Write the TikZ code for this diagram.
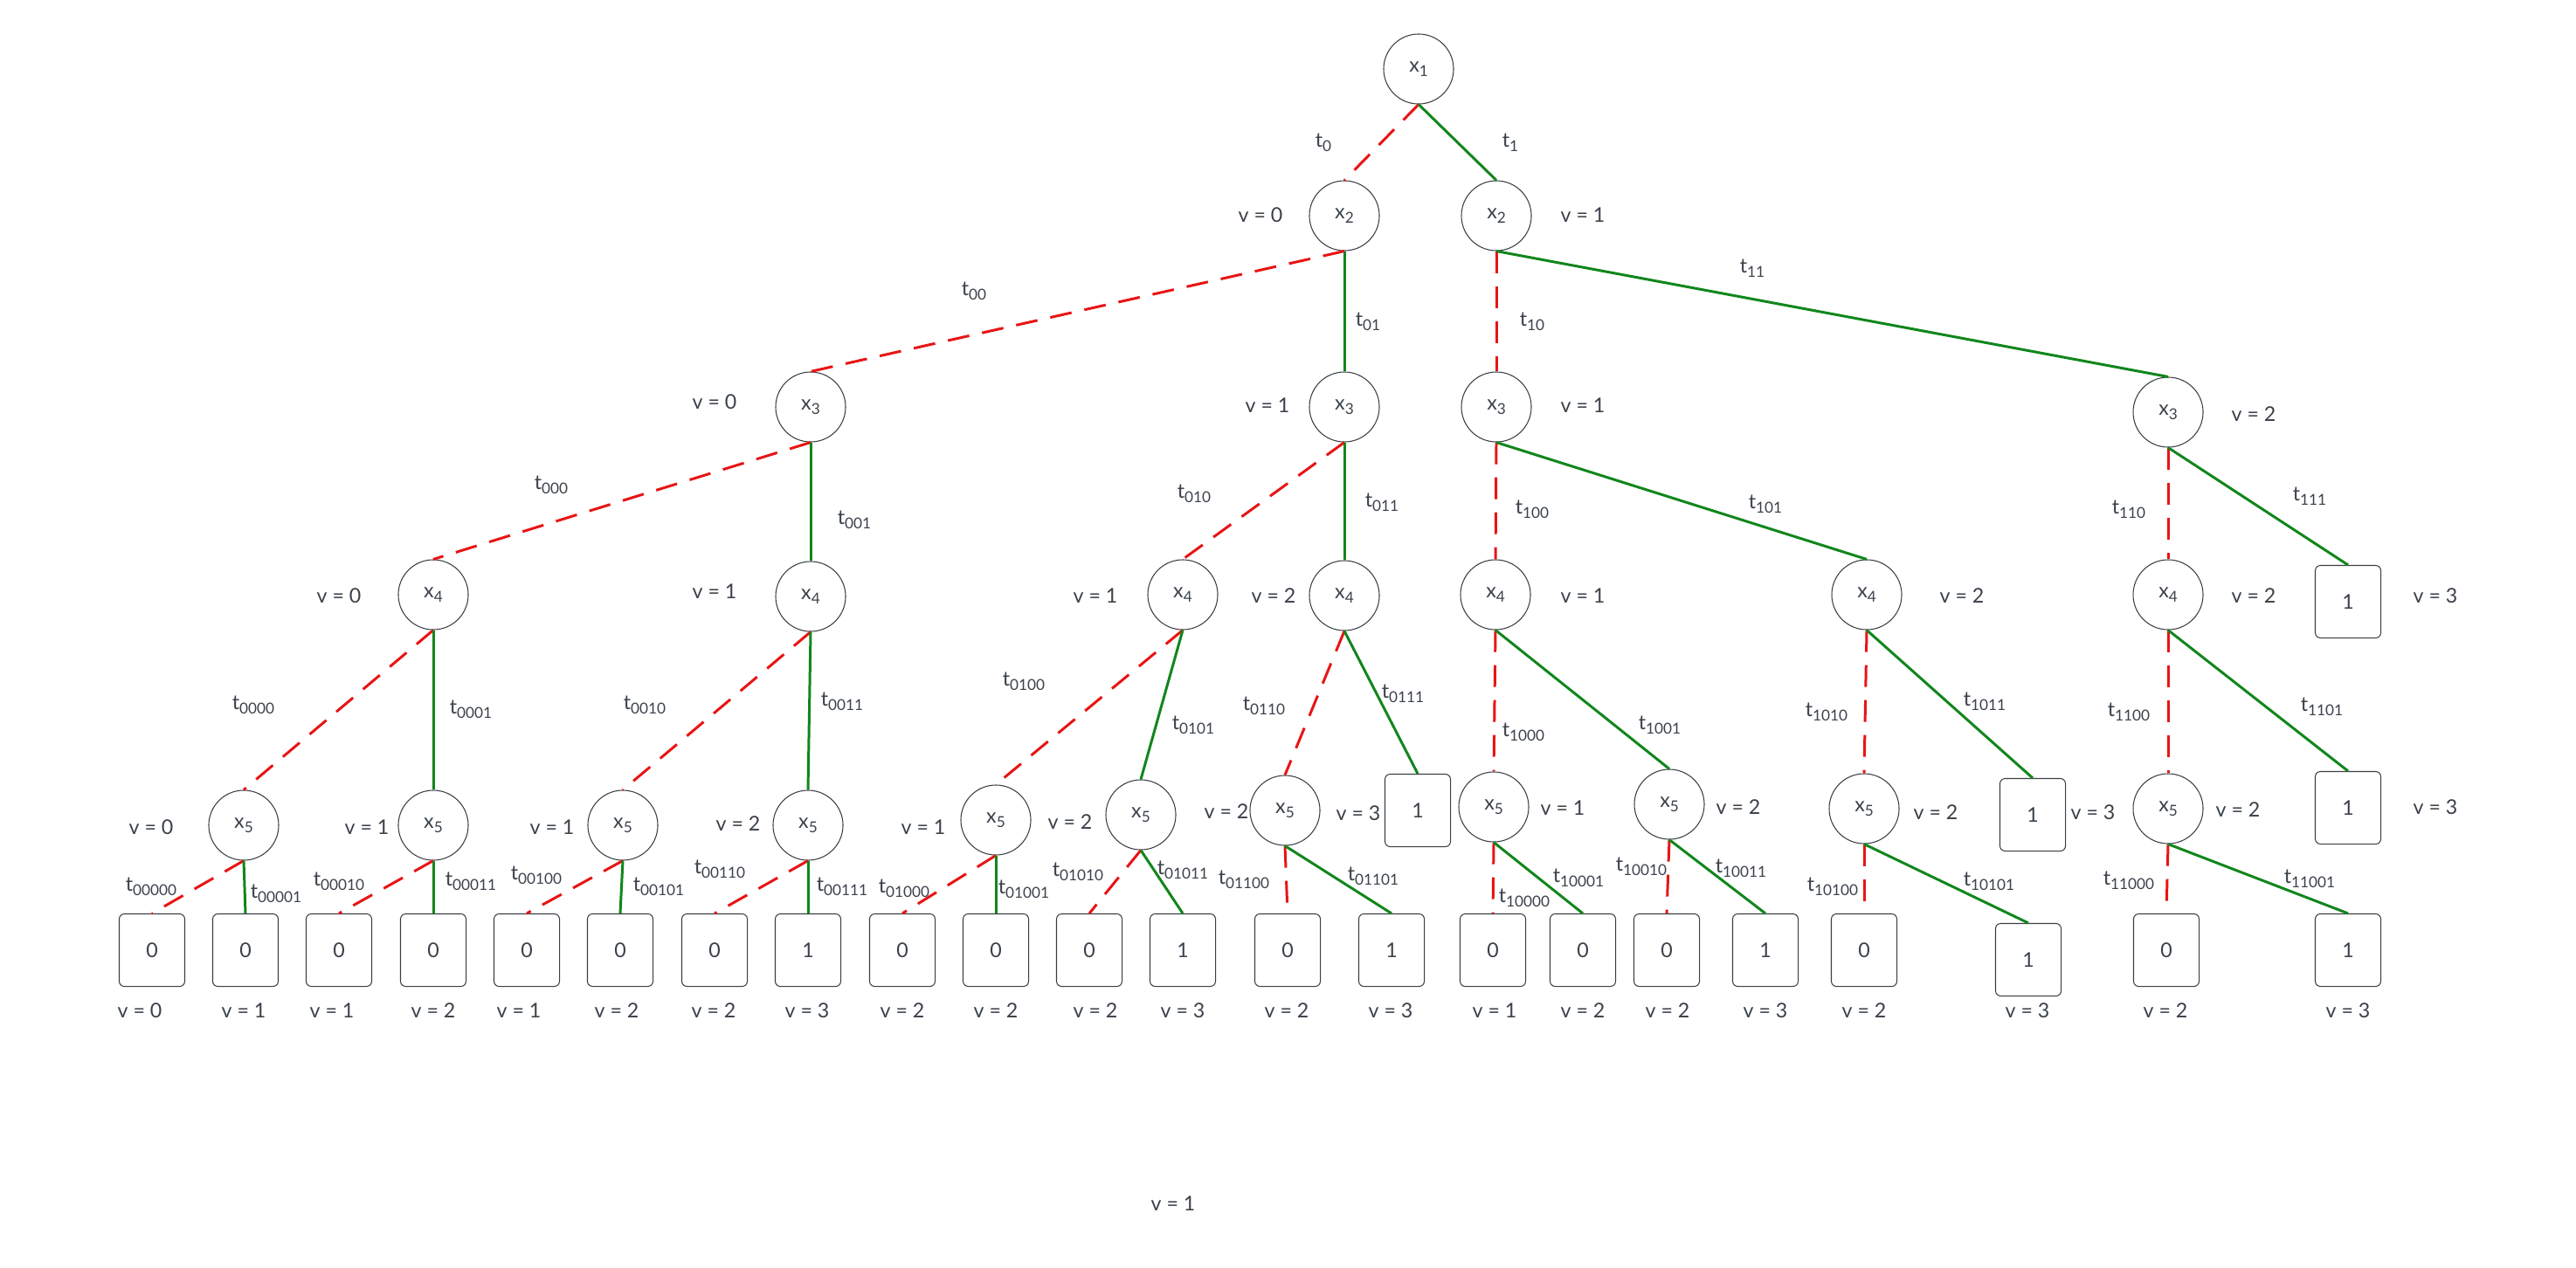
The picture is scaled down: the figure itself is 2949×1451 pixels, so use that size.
\documentclass[tikz,border=0pt]{standalone}
\usepackage{fontspec}
\setmainfont{Lato}
\definecolor{txt}{HTML}{3A414A}
\definecolor{bord}{HTML}{3A3F45}
\definecolor{redc}{HTML}{E81414}
\definecolor{grnc}{HTML}{11861C}
\newcommand\mylbl{\fontsize{6.6pt}{7.5pt}\selectfont}
\newcommand\sbs[1]{\raisebox{-0.4ex}{\fontsize{4.9pt}{5.5pt}\selectfont #1}}
\tikzset{
  vn/.style={circle, draw=bord, line width=0.3pt, minimum size=0.8cm, inner sep=0pt, text=txt, font=\mylbl},
  tn/.style={rectangle, rounded corners=0.06cm, draw=bord, line width=0.3pt, minimum width=0.75cm, minimum height=0.83cm, inner sep=0pt, text=txt, font=\mylbl},
  zero/.style={draw=redc, line width=0.85pt, dash pattern=on 0.25cm off 0.15cm},
  one/.style={draw=grnc, line width=0.85pt},
  lb/.style={text=txt, font=\mylbl, inner sep=0pt}
}
\begin{document}
\begin{tikzpicture}[x=0.01cm, y=-0.01cm]
\useasboundingbox (0,0) rectangle (2949,1451);
% ---------- decision nodes ----------
\node[vn] (n) at (1624,79) {x\sbs{1}};
\node[vn] (n0) at (1539,247) {x\sbs{2}};
\node[vn] (n1) at (1713,247) {x\sbs{2}};
\node[vn] (n00) at (928,466) {x\sbs{3}};
\node[vn] (n01) at (1539,466) {x\sbs{3}};
\node[vn] (n10) at (1713,466) {x\sbs{3}};
\node[vn] (n11) at (2482,472) {x\sbs{3}};
\node[vn] (n000) at (496,681) {x\sbs{4}};
\node[vn] (n001) at (928,683) {x\sbs{4}};
\node[vn] (n010) at (1354,681) {x\sbs{4}};
\node[vn] (n011) at (1539,682) {x\sbs{4}};
\node[vn] (n100) at (1712,681) {x\sbs{4}};
\node[vn] (n101) at (2137,681) {x\sbs{4}};
\node[vn] (n110) at (2482,681) {x\sbs{4}};
\node[tn] (n111) at (2688,689) {1};
\node[vn] (n0000) at (279,945) {x\sbs{5}};
\node[vn] (n0001) at (496,945) {x\sbs{5}};
\node[vn] (n0010) at (713,945) {x\sbs{5}};
\node[vn] (n0011) at (925,945) {x\sbs{5}};
\node[vn] (n0100) at (1140,939) {x\sbs{5}};
\node[vn] (n0101) at (1306,933) {x\sbs{5}};
\node[vn] (n0110) at (1471,928) {x\sbs{5}};
\node[tn] (n0111) at (1623,928) {1};
\node[vn] (n1000) at (1710,924) {x\sbs{5}};
\node[vn] (n1001) at (1911,921) {x\sbs{5}};
\node[vn] (n1010) at (2134,926) {x\sbs{5}};
\node[tn] (n1011) at (2327,933) {1};
\node[vn] (n1100) at (2482,926) {x\sbs{5}};
\node[tn] (n1101) at (2688,925) {1};
% ---------- leaves ----------
\node[tn] (n00000) at (174,1088) {0};
\node[tn] (n00001) at (281,1088) {0};
\node[tn] (n00010) at (388,1088) {0};
\node[tn] (n00011) at (496,1088) {0};
\node[tn] (n00100) at (603,1088) {0};
\node[tn] (n00101) at (710,1088) {0};
\node[tn] (n00110) at (818,1088) {0};
\node[tn] (n00111) at (925,1088) {1};
\node[tn] (n01000) at (1033,1088) {0};
\node[tn] (n01001) at (1140,1088) {0};
\node[tn] (n01010) at (1247,1088) {0};
\node[tn] (n01011) at (1354,1088) {1};
\node[tn] (n01100) at (1474,1088) {0};
\node[tn] (n01101) at (1593,1088) {1};
\node[tn] (n10000) at (1709,1088) {0};
\node[tn] (n10001) at (1812,1088) {0};
\node[tn] (n10010) at (1908,1088) {0};
\node[tn] (n10011) at (2021,1088) {1};
\node[tn] (n10100) at (2134,1088) {0};
\node[tn] (n10101) at (2322,1099) {1};
\node[tn] (n11000) at (2480,1088) {0};
\node[tn] (n11001) at (2688,1088) {1};
% ---------- edges ----------
\draw[zero] (n.south) -- (n0.north);
\draw[one] (n.south) -- (n1.north);
\draw[zero] (n0.south) -- (n00.north);
\draw[one] (n0.south) -- (n01.north);
\draw[zero] (n1.south) -- (n10.north);
\draw[one] (n1.south) -- (n11.north);
\draw[zero] (n00.south) -- (n000.north);
\draw[one] (n00.south) -- (n001.north);
\draw[zero] (n01.south) -- (n010.north);
\draw[one] (n01.south) -- (n011.north);
\draw[zero] (n10.south) -- (n100.north);
\draw[one] (n10.south) -- (n101.north);
\draw[zero] (n11.south) -- (n110.north);
\draw[one] (n11.south) -- (n111.north);
\draw[zero] (n000.south) -- (n0000.north);
\draw[one] (n000.south) -- (n0001.north);
\draw[zero] (n001.south) -- (n0010.north);
\draw[one] (n001.south) -- (n0011.north);
\draw[zero] (n010.south) -- (n0100.north);
\draw[one] (n010.south) -- (n0101.north);
\draw[zero] (n011.south) -- (n0110.north);
\draw[one] (n011.south) -- (n0111.north);
\draw[zero] (n100.south) -- (n1000.north);
\draw[one] (n100.south) -- (n1001.north);
\draw[zero] (n101.south) -- (n1010.north);
\draw[one] (n101.south) -- (n1011.north);
\draw[zero] (n110.south) -- (n1100.north);
\draw[one] (n110.south) -- (n1101.north);
\draw[zero] (n0000.south) -- (n00000.north);
\draw[one] (n0000.south) -- (n00001.north);
\draw[zero] (n0001.south) -- (n00010.north);
\draw[one] (n0001.south) -- (n00011.north);
\draw[zero] (n0010.south) -- (n00100.north);
\draw[one] (n0010.south) -- (n00101.north);
\draw[zero] (n0011.south) -- (n00110.north);
\draw[one] (n0011.south) -- (n00111.north);
\draw[zero] (n0100.south) -- (n01000.north);
\draw[one] (n0100.south) -- (n01001.north);
\draw[zero] (n0101.south) -- (n01010.north);
\draw[one] (n0101.south) -- (n01011.north);
\draw[zero] (n0110.south) -- (n01100.north);
\draw[one] (n0110.south) -- (n01101.north);
\draw[zero] (n1000.south) -- (n10000.north);
\draw[one] (n1000.south) -- (n10001.north);
\draw[zero] (n1001.south) -- (n10010.north);
\draw[one] (n1001.south) -- (n10011.north);
\draw[zero] (n1010.south) -- (n10100.north);
\draw[one] (n1010.south) -- (n10101.north);
\draw[zero] (n1100.south) -- (n11000.north);
\draw[one] (n1100.south) -- (n11001.north);
% ---------- edge labels ----------
\node[lb] (l0) at (1515,163) {t\sbs{0}};
\node[lb] (l1) at (1729,163) {t\sbs{1}};
\node[lb] (l00) at (1115,333) {t\sbs{00}};
\node[lb] (l01) at (1566,368) {t\sbs{01}};
\node[lb] (l10) at (1754,368) {t\sbs{10}};
\node[lb] (l11) at (2006,307) {t\sbs{11}};
\node[lb] (l000) at (631,555) {t\sbs{000}};
\node[lb] (l001) at (978,595) {t\sbs{001}};
\node[lb] (l010) at (1367,565) {t\sbs{010}};
\node[lb] (l011) at (1582,575) {t\sbs{011}};
\node[lb] (l100) at (1754,583) {t\sbs{100}};
\node[lb] (l101) at (2021,577) {t\sbs{101}};
\node[lb] (l110) at (2437,583) {t\sbs{110}};
\node[lb] (l111) at (2644,568) {t\sbs{111}};
\node[lb] (l0000) at (290,807) {t\sbs{0000}};
\node[lb] (l0001) at (539,812) {t\sbs{0001}};
\node[lb] (l0010) at (738,807) {t\sbs{0010}};
\node[lb] (l0011) at (964,803) {t\sbs{0011}};
\node[lb] (l0100) at (1172,780) {t\sbs{0100}};
\node[lb] (l0101) at (1366,830) {t\sbs{0101}};
\node[lb] (l0110) at (1447,808) {t\sbs{0110}};
\node[lb] (l0111) at (1606,794) {t\sbs{0111}};
\node[lb] (l1000) at (1744,838) {t\sbs{1000}};
\node[lb] (l1001) at (1900,830) {t\sbs{1001}};
\node[lb] (l1010) at (2091,815) {t\sbs{1010}};
\node[lb] (l1011) at (2272,803) {t\sbs{1011}};
\node[lb] (l1100) at (2437,815) {t\sbs{1100}};
\node[lb] (l1101) at (2658,809) {t\sbs{1101}};
\node[lb] (l00000) at (173,1015) {t\sbs{00000}};
\node[lb] (l00001) at (316,1023) {t\sbs{00001}};
\node[lb] (l00010) at (388,1009) {t\sbs{00010}};
\node[lb] (l00011) at (539,1009) {t\sbs{00011}};
\node[lb] (l00100) at (614,1002) {t\sbs{00100}};
\node[lb] (l00101) at (754,1015) {t\sbs{00101}};
\node[lb] (l00110) at (824,995) {t\sbs{00110}};
\node[lb] (l00111) at (964,1015) {t\sbs{00111}};
\node[lb] (l01000) at (1035,1017) {t\sbs{01000}};
\node[lb] (l01001) at (1172,1018) {t\sbs{01001}};
\node[lb] (l01010) at (1234,998) {t\sbs{01010}};
\node[lb] (l01011) at (1354,996) {t\sbs{01011}};
\node[lb] (l01100) at (1424,1007) {t\sbs{01100}};
\node[lb] (l01101) at (1572,1003) {t\sbs{01101}};
\node[lb] (l10000) at (1745,1028) {t\sbs{10000}};
\node[lb] (l10001) at (1807,1005) {t\sbs{10001}};
\node[lb] (l10010) at (1879,992) {t\sbs{10010}};
\node[lb] (l10011) at (1993,994) {t\sbs{10011}};
\node[lb] (l10100) at (2098,1015) {t\sbs{10100}};
\node[lb] (l10101) at (2277,1009) {t\sbs{10101}};
\node[lb] (l11000) at (2437,1008) {t\sbs{11000}};
\node[lb] (l11001) at (2644,1006) {t\sbs{11001}};
% ---------- v labels ----------
\node[lb] (v0) at (1443,246) {v = 0};
\node[lb] (v1) at (1812,246) {v = 1};
\node[lb] (v00) at (818,460) {v = 0};
\node[lb] (v01) at (1451,464) {v = 1};
\node[lb] (v10) at (1812,464) {v = 1};
\node[lb] (v11) at (2580,474) {v = 2};
\node[lb] (v000) at (388,682) {v = 0};
\node[lb] (v001) at (818,677) {v = 1};
\node[lb] (v010) at (1254,682) {v = 1};
\node[lb] (v011) at (1458,682) {v = 2};
\node[lb] (v100) at (1812,682) {v = 1};
\node[lb] (v101) at (2246,682) {v = 2};
\node[lb] (v110) at (2580,682) {v = 2};
\node[lb] (v111) at (2788,682) {v = 3};
\node[lb] (v0000) at (173,947) {v = 0};
\node[lb] (v0001) at (420,947) {v = 1};
\node[lb] (v0010) at (632,947) {v = 1};
\node[lb] (v0011) at (845,943) {v = 2};
\node[lb] (v0100) at (1057,947) {v = 1};
\node[lb] (v0101) at (1225,941) {v = 2};
\node[lb] (v0110) at (1404,929) {v = 2};
\node[lb] (v0111) at (1555,931) {v = 3};
\node[lb] (v1000) at (1789,925) {v = 1};
\node[lb] (v1001) at (1990,924) {v = 2};
\node[lb] (v1010) at (2216,930) {v = 2};
\node[lb] (v1011) at (2396,930) {v = 3};
\node[lb] (v1100) at (2562,927) {v = 2};
\node[lb] (v1101) at (2788,924) {v = 3};
\node[lb] (v00000) at (160,1157) {v = 0};
\node[lb] (v00001) at (279,1157) {v = 1};
\node[lb] (v00010) at (380,1157) {v = 1};
\node[lb] (v00011) at (496,1157) {v = 2};
\node[lb] (v00100) at (594,1157) {v = 1};
\node[lb] (v00101) at (706,1157) {v = 2};
\node[lb] (v00110) at (817,1157) {v = 2};
\node[lb] (v00111) at (924,1157) {v = 3};
\node[lb] (v01000) at (1033,1157) {v = 2};
\node[lb] (v01001) at (1140,1157) {v = 2};
\node[lb] (v01010) at (1254,1157) {v = 2};
\node[lb] (v01011) at (1354,1157) {v = 3};
\node[lb] (v01100) at (1473,1157) {v = 2};
\node[lb] (v01101) at (1592,1157) {v = 3};
\node[lb] (v10000) at (1711,1157) {v = 1};
\node[lb] (v10001) at (1812,1157) {v = 2};
\node[lb] (v10010) at (1909,1157) {v = 2};
\node[lb] (v10011) at (2021,1157) {v = 3};
\node[lb] (v10100) at (2134,1157) {v = 2};
\node[lb] (v10101) at (2321,1157) {v = 3};
\node[lb] (v11000) at (2479,1157) {v = 2};
\node[lb] (v11001) at (2688,1157) {v = 3};
\node[lb] (vx) at (1343,1378) {v = 1};
\end{tikzpicture}
\end{document}
